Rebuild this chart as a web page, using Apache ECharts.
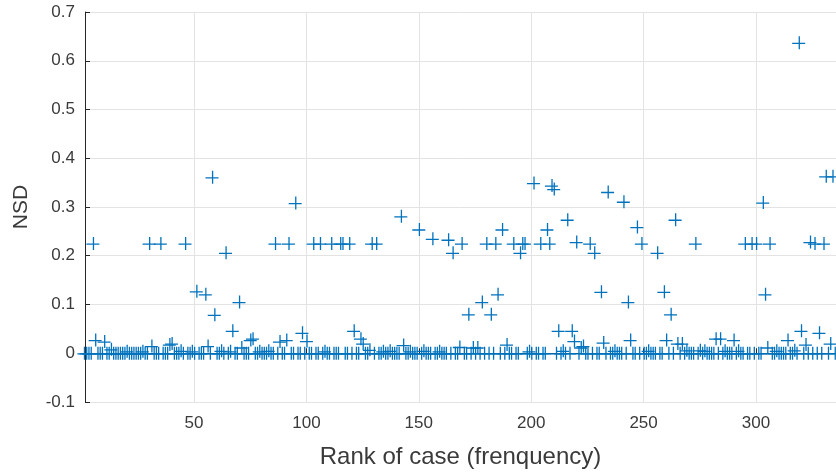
<!DOCTYPE html>
<html>
<head>
<meta charset="utf-8">
<script src="https://cdn.jsdelivr.net/npm/echarts@6/dist/echarts.min.js"></script>
<style>
html,body{margin:0;padding:0;background:#fff;}
#chart{width:836px;height:474px;}
</style>
</head>
<body>
<div id="chart"></div>
<script>
// NSD value for each case rank 1..335
const nsdValues = [
  0,0,0,0,0.225,0.027,0,0,0,0.024,
  0,0,0.008,0,0,0,0,0,0,0.004,
  0,0,0,0,0,0,0.004,0,0,0.225,
  0.015,0,0,0,0.225,0,0,0,0.018,0.02,
  0,0,0,0.005,0,0.225,0,0,0.004,0,
  0.127,0,0,0,0.121,0.015,0,0.361,0.079,0,
  0,0.005,0,0.206,0,0.004,0.046,0,0,0.105,
  0.012,0,0,0,0.027,0.03,0,0,0.004,0,
  0,0,0.005,0,0,0.225,0,0.024,0,0,
  0.027,0.225,0,0,0.308,0,0,0.042,0,0.025,
  0,0,0.225,0,0,0.225,0,0.004,0,0,
  0.225,0,0,0,0.225,0.225,0,0,0.225,0,
  0.046,0,0,0.03,0.02,0,0,0.007,0.225,0,
  0.225,0,0,0.004,0,0,0.005,0,0,0,
  0,0.281,0.017,0,0,0.004,0,0,0,0.254,
  0,0.005,0,0,0,0.235,0,0,0.004,0,
  0,0,0.233,0,0.206,0,0,0.013,0.225,0,
  0,0.08,0,0.012,0,0.012,0,0.105,0,0.225,
  0,0.08,0,0.225,0.121,0,0.254,0,0.018,0,
  0,0.225,0,0,0.206,0.225,0.225,0,0.004,0,
  0.349,0,0,0.225,0,0,0.254,0.225,0.344,0.337,
  0,0.046,0,0.005,0,0.274,0,0.046,0.025,0.228,
  0,0.012,0.015,0,0,0.225,0,0.206,0,0,
  0.126,0.022,0,0.331,0,0,0.005,0,0,0,
  0.311,0,0.105,0.027,0,0,0.259,0,0.225,0,
  0,0.005,0,0,0,0.206,0,0,0.126,0.027,
  0,0.08,0,0.274,0.02,0,0.02,0,0.006,0,
  0,0,0.225,0,0.006,0,0.005,0,0,0,
  0,0.03,0,0.03,0,0.005,0,0,0,0.027,
  0,0.005,0,0,0.225,0,0,0.225,0,0.225,
  0,0,0.309,0.121,0.012,0.225,0,0,0.005,0,
  0,0,0,0.027,0,0,0.006,0,0.637,0.046,
  0,0.018,0,0.228,0,0.225,0,0.042,0,0.225,
  0.363,0,0.02,0.363,0
];
const xTickValues = [50, 100, 150, 200, 250, 300];
const xTitle = 'Rank of case (frenquency)';
const yTitle = 'NSD';

const points = nsdValues.map((v, i) => [i + 1, v]);

const chart = echarts.init(document.getElementById('chart'), null, {renderer: 'canvas'});
const axisColor = '#262626';
const labelColor = '#3a3a3a';
const gridColor = '#e3e3e3';
const font = 'Liberation Sans, Arial, Helvetica, sans-serif';

chart.setOption({
  animation: false,
  backgroundColor: '#ffffff',
  grid: {left: 85, right: 0, top: 12, bottom: 71, containLabel: false},
  xAxis: {
    type: 'value',
    min: 1.5,
    max: 335.6,
    name: xTitle,
    nameLocation: 'middle',
    nameGap: 43,
    nameTextStyle: {fontFamily: font, fontSize: 24, color: labelColor},
    axisLine: {show: true, lineStyle: {color: axisColor, width: 1}},
    axisTick: {show: true, inside: true, length: 5, customValues: xTickValues, lineStyle: {color: axisColor}},
    axisLabel: {customValues: xTickValues, margin: 13, fontFamily: font, fontSize: 17, color: labelColor},
    splitLine: {show: true, lineStyle: {color: gridColor, width: 1}}
  },
  yAxis: {
    type: 'value',
    min: -0.1,
    max: 0.7,
    interval: 0.1,
    name: yTitle,
    nameLocation: 'middle',
    nameGap: 53,
    nameTextStyle: {fontFamily: font, fontSize: 21, color: labelColor},
    axisLine: {show: true, lineStyle: {color: axisColor, width: 1}},
    axisTick: {show: true, inside: true, length: 5, lineStyle: {color: axisColor}},
    axisLabel: {
      margin: 10, fontFamily: font, fontSize: 17, color: labelColor,
      formatter: v => (Math.abs(v) < 1e-9 ? '0' : (Math.round(v * 10) / 10).toString())
    },
    splitLine: {show: true, lineStyle: {color: gridColor, width: 1}}
  },
  series: [{
    type: 'scatter',
    data: points,
    symbol: 'path://M0,5.45H11V6.55H0Z M5.45,0H6.55V11H5.45Z',
    symbolSize: 13,
    clip: false,
    itemStyle: {color: '#0072BD', opacity: 1}
  }]
});
</script>
</body>
</html>
